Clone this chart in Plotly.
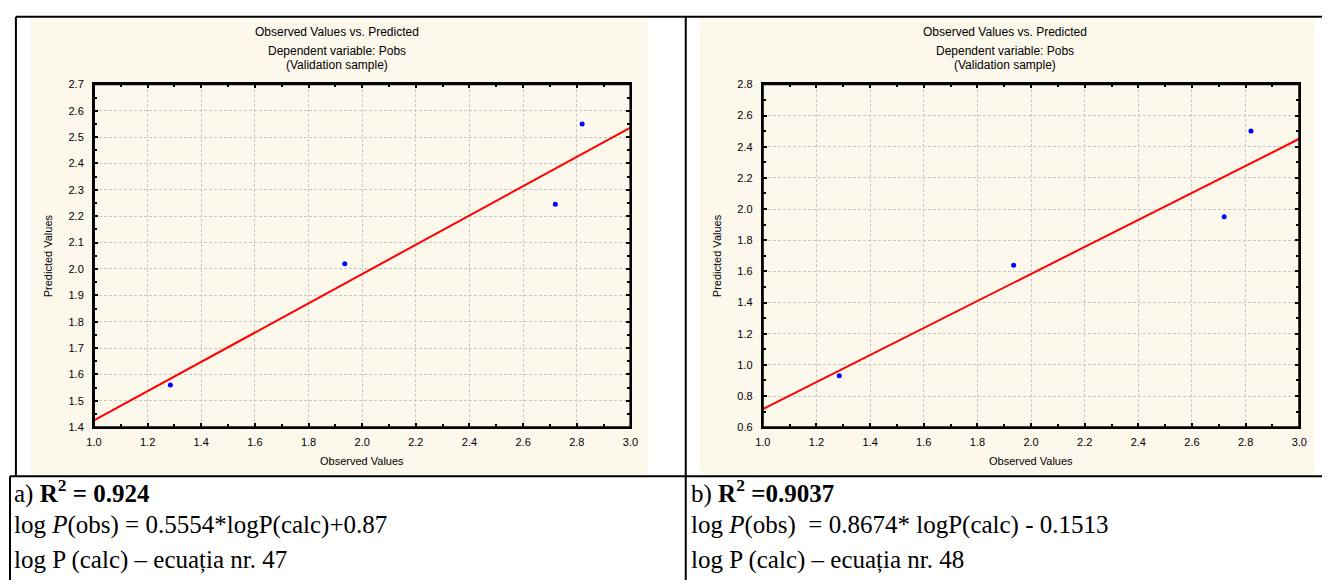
import plotly.graph_objects as go

W, H = 1330, 586

# Observed vs predicted values (validation sample) for the two models
observed = [1.285, 1.935, 2.72, 2.82]
predicted_a = [1.56, 2.02, 2.245, 2.55]
predicted_b = [0.93, 1.64, 1.95, 2.50]

# Regression equations stated under each chart
slope_a, intercept_a = 0.5554, 0.87
slope_b, intercept_b = 0.8674, -0.1513
r2_a, r2_b = "0.924", "0.9037"
eq_nr_a, eq_nr_b = 47, 48

x_range = [1.0, 3.0]
y_range_a = [1.4, 2.7]
y_range_b = [0.6, 2.8]

BEIGE = "#FDF8EC"
GRID = "#C8C8C8"
SANS = "Liberation Sans, Arial, sans-serif"
SERIF = "Liberation Serif, Times New Roman, serif"


def px(x):
    return x / W


def py(y):
    return 1 - y / H


fig = go.Figure()

panels = [
    dict(obs=observed, pred=predicted_a, slope=slope_a, icpt=intercept_a,
         yr=y_range_a, ydt=0.1, yminor=0.05, xa="x", ya="y",
         plot=(87, 630), card=(23, 647)),
    dict(obs=observed, pred=predicted_b, slope=slope_b, icpt=intercept_b,
         yr=y_range_b, ydt=0.2, yminor=0.1, xa="x2", ya="y2",
         plot=(764, 1307), card=(700, 1323)),
]

plot_top, plot_bottom = 80, 430
shapes = []
annotations = []

for i, p in enumerate(panels):
    # regression line drawn from the stated equation
    lx = list(x_range)
    ly = [p["slope"] * v + p["icpt"] for v in lx]
    fig.add_trace(go.Scatter(x=lx, y=ly, mode="lines",
                             line=dict(color="#FF0000", width=2),
                             xaxis=p["xa"], yaxis=p["ya"], showlegend=False,
                             hoverinfo="skip"))
    fig.add_trace(go.Scatter(x=p["obs"], y=p["pred"], mode="markers",
                             marker=dict(color="#0000FF", size=5),
                             xaxis=p["xa"], yaxis=p["ya"], showlegend=False))

    axis_common = dict(
        showgrid=True, gridcolor=GRID, gridwidth=1, griddash="3px,2px",
        showline=True, linecolor="black", linewidth=2, mirror="allticks",
        ticks="inside", ticklen=4, tickwidth=1.5, tickcolor="black",
        tickfont=dict(family=SANS, size=11, color="black"),
        zeroline=False, fixedrange=True, tickformat=".1f",
    )
    x0, x1 = p["plot"]
    xkey = "xaxis" if i == 0 else "xaxis2"
    ykey = "yaxis" if i == 0 else "yaxis2"
    fig.layout[xkey] = dict(
        axis_common, domain=[px(x0), px(x1)], range=x_range, tick0=1.0, dtick=0.2,
        anchor=p["ya"],
        minor=dict(dtick=0.1, ticks="inside", ticklen=3, tickcolor="black",
                   tickwidth=1.5, showgrid=False),
        ticklabelstandoff=4,
    )
    fig.layout[ykey] = dict(
        axis_common, domain=[py(plot_bottom), py(plot_top)], range=p["yr"],
        tick0=p["yr"][0], dtick=p["ydt"], anchor=p["xa"],
        minor=dict(dtick=p["yminor"], ticks="inside", ticklen=3, tickcolor="black",
                   tickwidth=1.5, showgrid=False),
        ticklabelstandoff=6,
    )

    # plot frame
    shapes.append(dict(type="rect", xref=f"{p['xa']} domain", yref=f"{p['ya']} domain",
                       x0=0, x1=1, y0=0, y1=1, layer="above",
                       line=dict(color="black", width=2)))

    # chart card background
    c0, c1 = p["card"]
    shapes.append(dict(type="rect", xref="paper", yref="paper", layer="below",
                       x0=px(c0), x1=px(c1), y0=py(478), y1=py(12),
                       fillcolor=BEIGE, line=dict(width=0)))
    cx = (c0 + c1) / 2 - 2
    for txt, yy in [("Observed Values vs. Predicted", 27),
                    ("Dependent variable: Pobs", 46),
                    ("(Validation sample)", 60)]:
        annotations.append(dict(text=txt, x=px(cx), y=py(yy), xref="paper", yref="paper",
                                showarrow=False, xanchor="center", yanchor="middle",
                                font=dict(family=SANS, size=12, color="black")))
    annotations.append(dict(text="Observed Values", x=px((x0 + x1) / 2), y=py(465),
                            xref="paper", yref="paper", showarrow=False,
                            xanchor="center", yanchor="middle",
                            font=dict(family=SANS, size=11, color="black")))
    annotations.append(dict(text="Predicted Values", x=px(x0 - 47), y=py(255),
                            xref="paper", yref="paper", showarrow=False, textangle=-90,
                            xanchor="center", yanchor="middle",
                            font=dict(family=SANS, size=11, color="black")))

# text rows under the charts
rows = [
    (4, [f"a) <b>R<sup>2</sup> = {r2_a}</b>",
         f"log <i>P</i>(obs) = {slope_a}*logP(calc)+{intercept_a}",
         f"log P (calc) – ecuația nr. {eq_nr_a}"]),
    (689, [f"b) <b>R<sup>2</sup> ={r2_b}</b>",
           f"log <i>P</i>(obs)\u00a0 = {slope_b}* logP(calc) - {abs(intercept_b)}",
           f"log P (calc) – ecuația nr. {eq_nr_b}"]),
]
for xl, lines in rows:
    for txt, yy in zip(lines, [496, 530, 566]):
        annotations.append(dict(text=txt, x=px(xl), y=py(yy), xref="paper", yref="paper",
                                showarrow=False, xanchor="left", yanchor="middle",
                                font=dict(family=SERIF, size=25, color="black")))

# table rules
line = dict(color="black", width=2)
for (a, b, c, d) in [(8, 11, 1330, 11), (2, 480, 1330, 480),
                     (8, 11, 8, 480), (2, 480, 2, 586),
                     (686, 11, 686, 586)]:
    shapes.append(dict(type="line", xref="paper", yref="paper",
                       x0=px(a), y0=py(b), x1=px(c), y1=py(d), line=line))

fig.update_layout(
    width=W, height=H, margin=dict(l=0, r=0, t=0, b=0),
    paper_bgcolor="white", plot_bgcolor="white",
    shapes=shapes, annotations=annotations, showlegend=False,
)

fig.write_html("out.html")
